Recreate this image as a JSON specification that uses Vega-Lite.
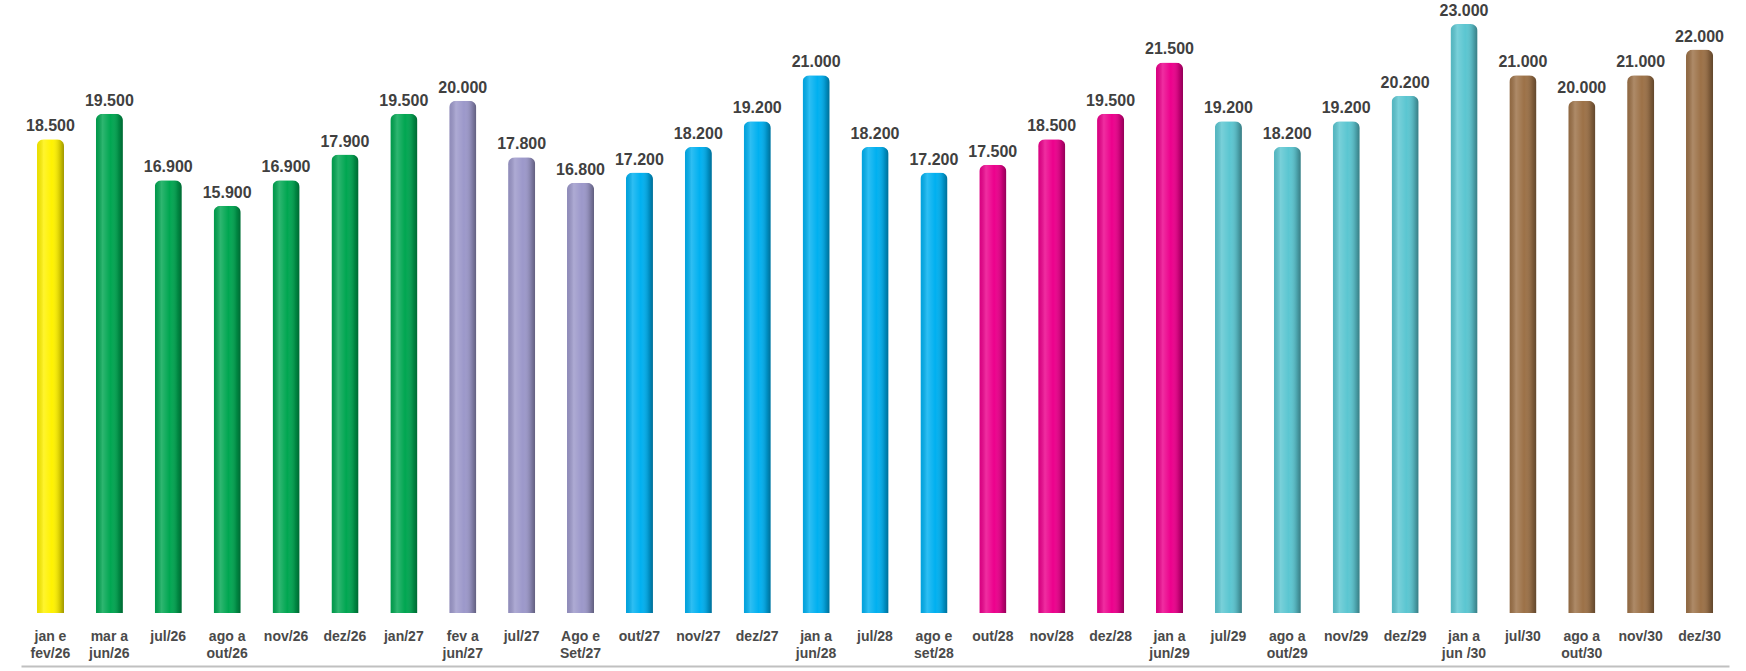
{
  "$schema": "https://vega.github.io/schema/vega-lite/v6.json",
  "description": "Valores por período, barras cilíndricas agrupadas por cor.",
  "autosize": {"type": "none"},
  "width": 1708,
  "height": 589,
  "padding": {"left": 21, "top": 24, "right": 17, "bottom": 58},
  "background": "white",
  "config": {
    "view": {"stroke": null},
    "locale": {"number": {"decimal": ",", "thousands": ".", "grouping": [3], "currency": ["R$", ""]}},
    "font": "Liberation Sans"
  },
  "data": {
    "values": [
      {"periodo": "jan e|fev/26", "grupo": "g1", "valor": 18500},
      {"periodo": "mar a|jun/26", "grupo": "g2", "valor": 19500},
      {"periodo": "jul/26", "grupo": "g2", "valor": 16900},
      {"periodo": "ago a|out/26", "grupo": "g2", "valor": 15900},
      {"periodo": "nov/26", "grupo": "g2", "valor": 16900},
      {"periodo": "dez/26", "grupo": "g2", "valor": 17900},
      {"periodo": "jan/27", "grupo": "g2", "valor": 19500},
      {"periodo": "fev a|jun/27", "grupo": "g3", "valor": 20000},
      {"periodo": "jul/27", "grupo": "g3", "valor": 17800},
      {"periodo": "Ago e|Set/27", "grupo": "g3", "valor": 16800},
      {"periodo": "out/27", "grupo": "g4", "valor": 17200},
      {"periodo": "nov/27", "grupo": "g4", "valor": 18200},
      {"periodo": "dez/27", "grupo": "g4", "valor": 19200},
      {"periodo": "jan a|jun/28", "grupo": "g4", "valor": 21000},
      {"periodo": "jul/28", "grupo": "g4", "valor": 18200},
      {"periodo": "ago e|set/28", "grupo": "g4", "valor": 17200},
      {"periodo": "out/28", "grupo": "g5", "valor": 17500},
      {"periodo": "nov/28", "grupo": "g5", "valor": 18500},
      {"periodo": "dez/28", "grupo": "g5", "valor": 19500},
      {"periodo": "jan a|jun/29", "grupo": "g5", "valor": 21500},
      {"periodo": "jul/29", "grupo": "g6", "valor": 19200},
      {"periodo": "ago a|out/29", "grupo": "g6", "valor": 18200},
      {"periodo": "nov/29", "grupo": "g6", "valor": 19200},
      {"periodo": "dez/29", "grupo": "g6", "valor": 20200},
      {"periodo": "jan a|jun /30", "grupo": "g6", "valor": 23000},
      {"periodo": "jul/30", "grupo": "g7", "valor": 21000},
      {"periodo": "ago a|out/30", "grupo": "g7", "valor": 20000},
      {"periodo": "nov/30", "grupo": "g7", "valor": 21000},
      {"periodo": "dez/30", "grupo": "g7", "valor": 22000}
    ]
  },
  "encoding": {
    "x": {
      "field": "periodo",
      "type": "nominal",
      "sort": null,
      "scale": {"paddingInner": 0.54, "paddingOuter": 0.27},
      "axis": {
        "title": null,
        "labelAngle": 0,
        "labelExpr": "split(datum.label, '|')",
        "labelFont": "Liberation Sans",
        "labelFontWeight": "bold",
        "labelFontSize": 14,
        "labelColor": "#4a4a4a",
        "labelLineHeight": 17,
        "labelBaseline": "top",
        "labelPadding": -37,
        "ticks": false,
        "offset": 53,
        "domainColor": "#c0c0c0",
        "domainWidth": 2
      }
    },
    "y": {
      "field": "valor",
      "type": "quantitative",
      "scale": {"domain": [0, 23000], "nice": false},
      "axis": null
    }
  },
  "layer": [
    {
      "mark": {"type": "bar", "cornerRadiusTopLeft": 7, "cornerRadiusTopRight": 7},
      "encoding": {
        "color": {
          "field": "grupo",
          "type": "nominal",
          "scale": {
            "domain": ["g1", "g2", "g3", "g4", "g5", "g6", "g7"],
            "range": ["#FFF200", "#00A651", "#9C98CA", "#00B0F0", "#EC008C", "#5BC6D1", "#9C7147"]
          },
          "legend": null
        }
      }
    },
    {
      "mark": {
        "type": "bar",
        "cornerRadiusTopLeft": 7,
        "cornerRadiusTopRight": 7,
        "color": {
          "gradient": "linear",
          "x1": 0, "y1": 0, "x2": 1, "y2": 0,
          "stops": [
            {"offset": 0, "color": "rgba(0,0,0,0.08)"},
            {"offset": 0.25, "color": "rgba(255,255,255,0.18)"},
            {"offset": 0.55, "color": "rgba(255,255,255,0)"},
            {"offset": 0.85, "color": "rgba(0,0,0,0.18)"},
            {"offset": 1, "color": "rgba(0,0,0,0.38)"}
          ]
        }
      }
    },
    {
      "mark": {
        "type": "text",
        "baseline": "bottom",
        "dy": -5,
        "font": "Liberation Sans",
        "fontWeight": "bold",
        "fontSize": 16,
        "color": "#404040"
      },
      "encoding": {
        "text": {"field": "valor", "type": "quantitative", "format": ",.0f"}
      }
    }
  ]
}
